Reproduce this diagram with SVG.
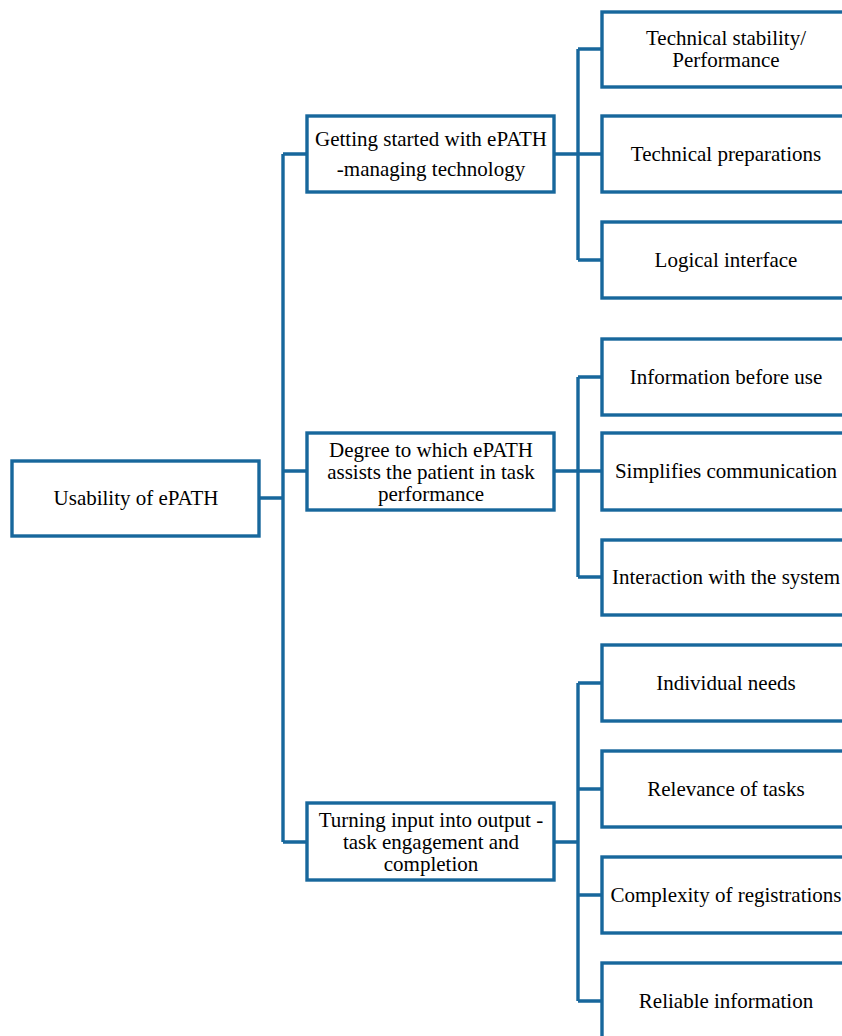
<svg xmlns="http://www.w3.org/2000/svg" width="842" height="1036" viewBox="0 0 842 1036">
<style>
.box{fill:#fff;stroke:#17679c;stroke-width:3.4}
.ln{fill:none;stroke:#17679c;stroke-width:3.4}
text{font-family:"Liberation Serif","Times New Roman",serif;font-size:21px;fill:#000;text-anchor:middle}
</style>
<rect width="842" height="1036" fill="#fff"/>
<g id="connectors">
<path class="ln" d="M259 498H283M283 154V842M283 154H307M283 471H307M283 842H307"/>
<path class="ln" d="M554 154H578M578 49V260M578 49H602M578 154H602M578 260H602"/>
<path class="ln" d="M554 471H578M578 377V577M578 377H602M578 471H602M578 577H602"/>
<path class="ln" d="M554 842H578M578 683V1001M578 683H602M578 789H602M578 895H602M578 1001H602"/>
</g>
<g id="root"><rect class="box" x="12" y="461" width="247" height="75"/><text x="136" y="505">Usability of ePATH</text></g>
<g id="m1"><rect class="box" x="307" y="116" width="247" height="76"/><text x="431" y="146">Getting started with ePATH</text><text x="431" y="176">-managing technology</text></g>
<g id="m2"><rect class="box" x="307" y="433" width="247" height="77"/><text x="431" y="457">Degree to which ePATH</text><text x="431" y="479">assists the patient in task</text><text x="431" y="501">performance</text></g>
<g id="m3"><rect class="box" x="307" y="803" width="247" height="77"/><text x="431" y="827">Turning input into output -</text><text x="431" y="849">task engagement and</text><text x="431" y="871">completion</text></g>
<g id="l1"><rect class="box" x="602" y="12" width="248" height="75"/><text x="726" y="45">Technical stability/</text><text x="726" y="67">Performance</text></g>
<g id="l2"><rect class="box" x="602" y="116" width="248" height="76"/><text x="726" y="161">Technical preparations</text></g>
<g id="l3"><rect class="box" x="602" y="222" width="248" height="76"/><text x="726" y="267">Logical interface</text></g>
<g id="l4"><rect class="box" x="602" y="339" width="248" height="76"/><text x="726" y="384">Information before use</text></g>
<g id="l5"><rect class="box" x="602" y="433" width="248" height="77"/><text x="726" y="478">Simplifies communication</text></g>
<g id="l6"><rect class="box" x="602" y="540" width="248" height="75"/><text x="726" y="584">Interaction with the system</text></g>
<g id="l7"><rect class="box" x="602" y="645" width="248" height="76"/><text x="726" y="690">Individual needs</text></g>
<g id="l8"><rect class="box" x="602" y="751" width="248" height="76"/><text x="726" y="796">Relevance of tasks</text></g>
<g id="l9"><rect class="box" x="602" y="857" width="248" height="76"/><text x="726" y="902">Complexity of registrations</text></g>
<g id="l10"><rect class="box" x="602" y="963" width="248" height="76"/><text x="726" y="1008">Reliable information</text></g>
</svg>
